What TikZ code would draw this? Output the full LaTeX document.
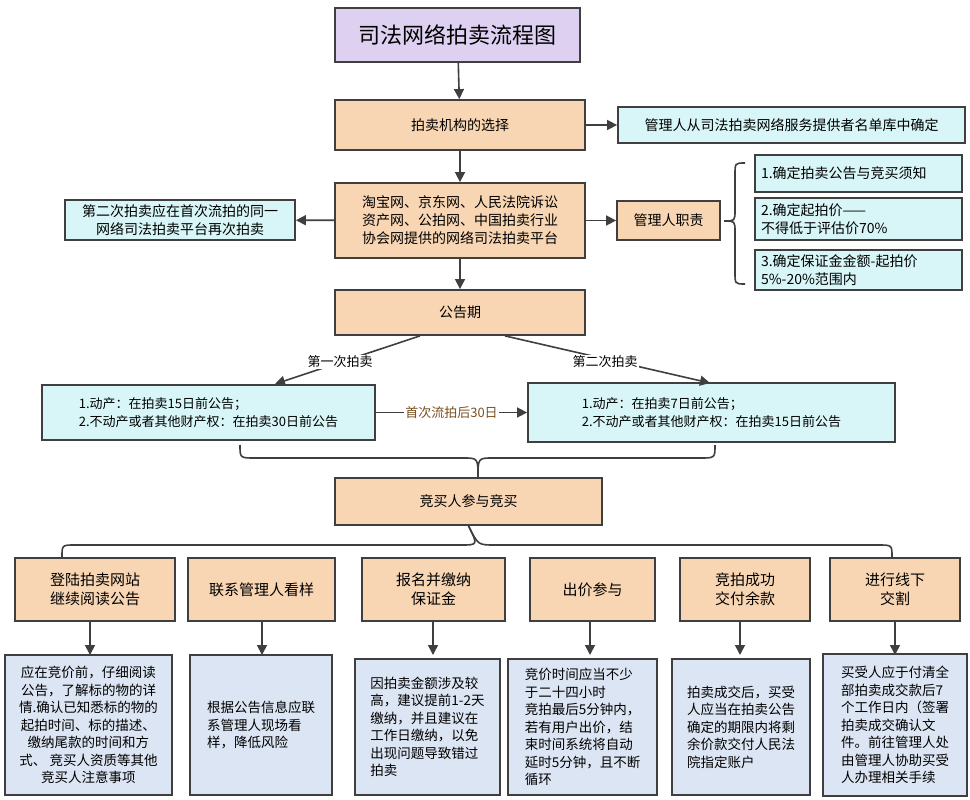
\documentclass[tikz,border=0pt]{standalone}
\usepackage{fontspec}
\setmainfont{Noto Sans CJK SC}
\usetikzlibrary{arrows.meta}
\definecolor{org}{HTML}{F8D6B3}
\definecolor{cyn}{HTML}{D8F6F7}
\definecolor{blu}{HTML}{DCE5F3}
\definecolor{pur}{HTML}{DDD0F0}
\definecolor{edge}{HTML}{3F3F3F}
\definecolor{brn}{HTML}{7A5020}
\begin{document}
\begin{tikzpicture}[x=1pt,y=-1pt,
  base/.style={draw=edge,line width=1.8pt,inner sep=3pt,font=\fontsize{14}{18}\selectfont},
  ob/.style={base,fill=org,align=center},
  cb/.style={base,fill=cyn,align=left},
  bb/.style={base,fill=blu,align=left,font=\fontsize{13.5}{17.5}\selectfont},
  arr/.style={draw=edge,line width=1.6pt,-{Triangle[width=10pt,length=10pt]}},
  ln/.style={draw=edge,line width=1.6pt}]
\useasboundingbox[fill=white] (0,0) rectangle (970,800);
\node[base,fill=pur,minimum width=245,minimum height=54,font=\fontsize{22}{26}\selectfont] (t) at (457.5,35) {司法网络拍卖流程图};
\node[ob,minimum width=250,minimum height=50] (a) at (460,125) {拍卖机构的选择};
\node[cb,minimum width=347,minimum height=36,align=center] (ar) at (791.5,125) {管理人从司法拍卖网络服务提供者名单库中确定};
\node[ob,minimum width=250,minimum height=75] (p) at (460,220.5) {淘宝网、京东网、人民法院诉讼\\资产网、公拍网、中国拍卖行业\\协会网提供的网络司法拍卖平台};
\node[cb,minimum width=230,minimum height=40,align=center] (pl) at (180,220) {第二次拍卖应在首次流拍的同一\\网络司法拍卖平台再次拍卖};
\node[ob,minimum width=103,minimum height=39] (m) at (668.5,220.5) {管理人职责};
\node[cb,minimum width=207,minimum height=37,text width=195] (m1) at (858.5,173.5) {1.确定拍卖公告与竞买须知};
\node[cb,minimum width=207,minimum height=42,text width=195] (m2) at (858.5,219) {2.确定起拍价——不得低于评估价70\%};
\node[cb,minimum width=207,minimum height=40,text width=195] (m3) at (858.5,270) {3.确定保证金金额-起拍价\\5\%-20\%范围内};
\node[ob,minimum width=250,minimum height=45] (g) at (460,312.5) {公告期};
\node[cb,minimum width=333,minimum height=55,font=\fontsize{13}{18}\selectfont] (g1) at (208.5,412.5) {1.动产：在拍卖15日前公告；\\2.不动产或者其他财产权：在拍卖30日前公告\hspace{20pt}};
\node[cb,minimum width=367,minimum height=59,font=\fontsize{13}{18}\selectfont] (g2) at (711.5,412.5) {1.动产：在拍卖7日前公告；\hspace{150pt}\\2.不动产或者其他财产权：在拍卖15日前公告\hspace{40pt}};
\node[ob,minimum width=267,minimum height=47] (j) at (468.5,501.5) {竞买人参与竞买};
\draw[arr] (t) -- (a);
\draw[arr] (a) -- (ar);
\draw[arr] (a) -- (p);
\draw[arr] (p) -- (pl);
\draw[arr] (p) -- (m);
\draw[arr] (p) -- (g);
\draw[arr] (g.south) ++(-40,0) coordinate (gl) -- (275,384) coordinate (g1t);
\draw[arr] (g.south) ++(45,0) coordinate (gr) -- (710,383) coordinate (g2t);
\node[fill=white,inner sep=1pt,font=\fontsize{13}{16}\selectfont] (l1) at (340,362) {第一次拍卖};
\node[fill=white,inner sep=1pt,font=\fontsize{13}{16}\selectfont] (l2) at (605,362) {第二次拍卖};
\draw[arr] (g1) -- node[fill=white,inner sep=1pt,text=brn,font=\fontsize{13}{16}\selectfont] (l3) {首次流拍后30日} (g2);
% right brace
\draw[ln] (745,163) .. controls (735,163) .. (735,175) -- (735,210) .. controls (735,221) .. (724,221) .. controls (735,221) .. (735,232) -- (735,272) .. controls (735,284) .. (745,284);
% brace under announcement boxes
\draw[ln] (240,445) .. controls (240,458) .. (255,458) -- (463,458) .. controls (478,458) .. (478,478) .. controls (478,458) .. (493,458) -- (700,458) .. controls (715,458) .. (715,445);
% brace above row
\draw[ln] (j.south) .. controls (478,545) .. (495,545) -- (878,545) .. controls (892,545) .. (892,557);
\draw[ln] (j.south) .. controls (478,545) .. (461,545) -- (75,545) .. controls (62,545) .. (62,557);
% row
\foreach \n/\x/\w/\t in {r1/95/160/{登陆拍卖网站\\继续阅读公告},r2/261.5/147/{联系管理人看样},r3/433.5/143/{报名并缴纳\\保证金},r4/592.5/125/{出价参与},r5/745/130/{竞拍成功\\交付余款},r6/895/130/{进行线下\\交割}}
  \node[ob,minimum width=\w,minimum height=63,anchor=north,font=\fontsize{15}{19}\selectfont] (\n) at (\x,557) {\t};
\node[bb,minimum width=167,minimum height=140,align=center] (b1) at (88.5,725) {应在竞价前，仔细阅读\\公告，了解标的物的详\\情.确认已知悉标的物的\\起拍时间、标的描述、\\缴纳尾款的时间和方\\式、 竞买人资质等其他\\竞买人注意事项};
\node[bb,minimum width=142,minimum height=140] (b2) at (261,725) {根据公告信息应联\\系管理人现场看\\样，降低风险};
\node[bb,minimum width=145,minimum height=136] (b3) at (427.5,727) {因拍卖金额涉及较\\高，建议提前1-2天\\缴纳，并且建议在\\工作日缴纳，以免\\出现问题导致错过\\拍卖};
\node[bb,minimum width=149,minimum height=136] (b4) at (582.5,727) {竞价时间应当不少\\于二十四小时\\竞拍最后5分钟内，\\若有用户出价，结\\束时间系统将自动\\延时5分钟，且不断\\循环};
\node[bb,minimum width=138,minimum height=136] (b5) at (741,727) {拍卖成交后，买受\\人应当在拍卖公告\\确定的期限内将剩\\余价款交付人民法\\院指定账户};
\node[bb,minimum width=144,minimum height=142] (b6) at (895,725) {买受人应于付清全\\部拍卖成交款后7\\个工作日内（签署\\拍卖成交确认文\\件。前往管理人处\\由管理人协助买受\\人办理相关手续};
\foreach \i/\x in {1/90,2/262,3/433,4/590,5/740,6/895}
  \draw[arr] (\x,620) coordinate (s\i) -- (\x,655) coordinate (e\i);
\end{tikzpicture}
\end{document}
